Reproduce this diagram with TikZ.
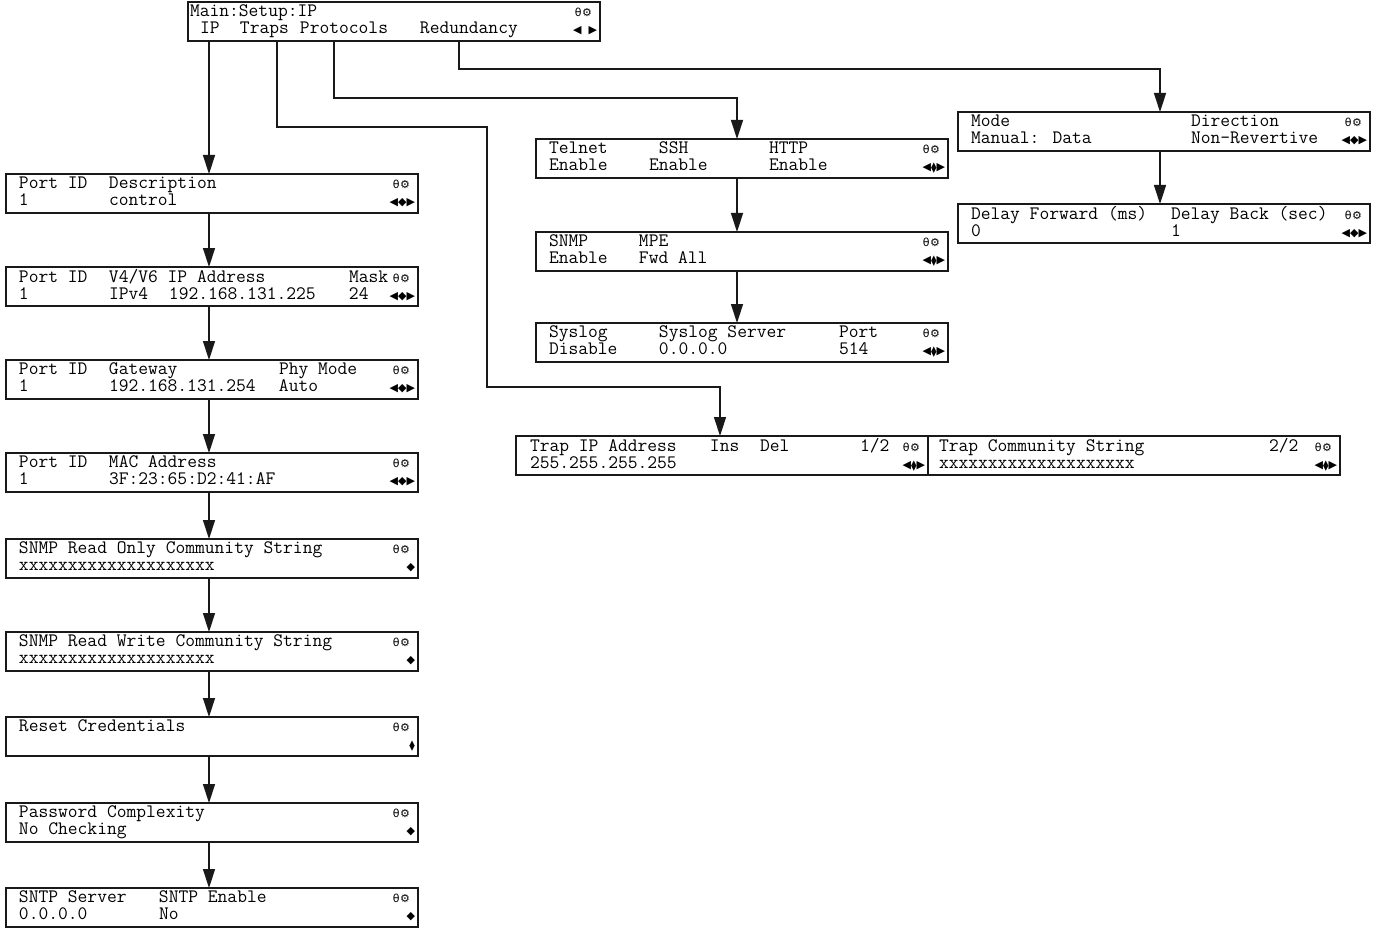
\documentclass[tikz,border=0pt]{standalone}
\usepackage{fontspec}
\newfontfamily\symfont{DejaVu Sans}
\usetikzlibrary{positioning,arrows.meta,calc}

% one display row is two lines of 10pt wide characters
\newlength{\cw}\setlength{\cw}{10pt}
\newlength{\lcdwd}\setlength{\lcdwd}{412pt}
\newcommand{\cell}[2]{\makebox[#1\cw][l]{#2}}
\newcommand{\sym}[1]{{\symfont\fontsize{11}{11}\selectfont #1}}
\newcommand{\lockgear}{\sym{θ\kern0.5pt⚙}}
\newcommand{\dia}{\sym{◆}}
\newcommand{\lrdia}{\sym{◀◆▶}}
\newcommand{\updn}{\raisebox{-3.2pt}{\sym{\vbox{\hbox{▴}\kern-6.2pt\hbox{▾}}}}}
\newcommand{\lrud}{\sym{◀}\updn\sym{▶}}
\newcommand{\lr}{\sym{◀\hspace{7pt}▶}}
\newcommand{\lcdrows}[4][13pt]{%
  \vbox{\baselineskip=17pt\lineskiplimit=-50pt
    \hbox to \lcdwd{\hspace*{#1}\rule{0pt}{12pt}#2\hfill\lockgear\hspace*{8pt}}
    \hbox to \lcdwd{\hspace*{#1}\rule[-5pt]{0pt}{5pt}#3\hfill#4\hspace*{3pt}}}}

\tikzset{
  lcd/.style={draw=black!90, line width=2.2pt, inner sep=0pt, outer sep=0pt,
              minimum height=39pt, anchor=north west,
              font=\ttfamily\fontsize{19}{17}\selectfont},
  flow/.style={-{Triangle[length=19pt,width=12pt]}, line width=1.4pt, draw=black!90},
}

\begin{document}
\begin{tikzpicture}[x=1pt, y=-1pt, node distance=54pt]
\useasboundingbox (0,0) rectangle (1373,928);

% --- top menu --------------------------------------------------------------------------
\node[lcd] (main) at (188,2)
  {\lcdrows[2pt]{Main:Setup:IP}{\cell{1}{}\cell{4}{IP}\cell{6}{Traps}\cell{12}{Protocols}Redundancy}{\lr}};
\coordinate (ipTab) at ($(main.south west)+(21,0)$);
\coordinate (trapsTab) at ($(main.south west)+(89,0)$);
\coordinate (protoTab) at ($(main.south west)+(146,0)$);
\coordinate (redTab) at ($(main.south west)+(271,0)$);

% --- IP column -------------------------------------------------------------------------
\node[lcd] (portdesc) at (6,174)
  {\lcdrows{\cell{9}{Port ID}Description}{\cell{9}{1}control}{\lrdia}};
\node[lcd, below=of portdesc.south west, anchor=north west] (portip)
  {\lcdrows{\cell{9}{Port ID}\cell{24}{V4/V6 IP Address}Mask}{\cell{9}{1}\cell{6}{IPv4}\cell{18}{192.168.131.225}24}{\lrdia}};
\node[lcd, below=of portip.south west, anchor=north west] (portgw)
  {\lcdrows{\cell{9}{Port ID}\cell{17}{Gateway}Phy Mode}{\cell{9}{1}\cell{17}{192.168.131.254}Auto}{\lrdia}};
\node[lcd, below=of portgw.south west, anchor=north west] (portmac)
  {\lcdrows{\cell{9}{Port ID}MAC Address}{\cell{9}{1}3F:23:65:D2:41:AF}{\lrdia}};
\node[lcd, below=47pt of portmac.south west, anchor=north west] (snmpro)
  {\lcdrows{SNMP Read Only Community String}{xxxxxxxxxxxxxxxxxxxx}{\dia}};
\node[lcd, below=of snmpro.south west, anchor=north west] (snmprw)
  {\lcdrows{SNMP Read Write Community String}{xxxxxxxxxxxxxxxxxxxx}{\dia}};
\node[lcd, below=46pt of snmprw.south west, anchor=north west] (reset)
  {\lcdrows{Reset Credentials}{}{\updn}};
\node[lcd, below=47pt of reset.south west, anchor=north west] (passwd)
  {\lcdrows{Password Complexity}{No Checking}{\dia}};
\node[lcd, below=46pt of passwd.south west, anchor=north west] (sntp)
  {\lcdrows{\cell{14}{SNTP Server}SNTP Enable}{\cell{14}{0.0.0.0}No}{\dia}};

% --- Protocols column ------------------------------------------------------------------
\node[lcd] (telnet) at (536,139)
  {\lcdrows{\cell{11}{Telnet}\cell{11}{SSH}HTTP}{\cell{10}{Enable}\cell{12}{Enable}Enable}{\lrud}};
\node[lcd, below=of telnet.south west, anchor=north west] (snmp)
  {\lcdrows{\cell{9}{SNMP}MPE}{\cell{9}{Enable}Fwd All}{\lrud}};
\node[lcd, below=52pt of snmp.south west, anchor=north west] (syslog)
  {\lcdrows{\cell{11}{Syslog}\cell{18}{Syslog Server}Port}{\cell{11}{Disable}\cell{18}{0.0.0.0}514}{\lrud}};

% --- Redundancy column -----------------------------------------------------------------
\node[lcd] (mode) at (958,112)
  {\lcdrows{\cell{22}{Mode}Direction}{\cell{22}{Manual: Data}Non-Revertive}{\lrdia}};
\node[lcd, below=53pt of mode.south west, anchor=north west] (delay)
  {\lcdrows{\cell{20}{Delay Forward (ms)}Delay Back (sec)}{\cell{20}{0}1}{\lrdia}};

% --- Traps pages -----------------------------------------------------------------------
\node[lcd] (trapip) at (516,436)
  {\lcdrows[14pt]{\cell{18}{Trap IP Address}\cell{5}{Ins}\cell{10}{Del}1/2}{255.255.255.255}{\lrud}};
\node[lcd, right=0pt of trapip.north east, anchor=north west] (trapcomm)
  {\lcdrows[11pt]{\cell{33}{Trap Community String}2/2}{xxxxxxxxxxxxxxxxxxxx}{\lrud}};

% --- connectors ------------------------------------------------------------------------
\coordinate (trapsBend) at (487,127);
\coordinate (trapsDrop) at (720,387);
\coordinate (protoDrop) at (737,98);
\coordinate (redDrop) at (1160,69);

\draw[flow] (ipTab) -- (ipTab |- portdesc.north);
\foreach \a/\b in {portdesc/portip, portip/portgw, portgw/portmac, portmac/snmpro,
                   snmpro/snmprw, snmprw/reset, reset/passwd, passwd/sntp}
  \draw[flow] (\a.south -| ipTab) -- (\b.north -| ipTab);

\draw[flow] (trapsTab) |- (trapsBend) |- (trapsDrop) -- (trapsDrop |- trapip.north);

\draw[flow] (protoTab) |- (protoDrop) -- (protoDrop |- telnet.north);
\draw[flow] (telnet.south -| protoDrop) -- (snmp.north -| protoDrop);
\draw[flow] (snmp.south -| protoDrop) -- (syslog.north -| protoDrop);

\draw[flow] (redTab) |- (redDrop) -- (redDrop |- mode.north);
\draw[flow] (mode.south -| redDrop) -- (delay.north -| redDrop);

\end{tikzpicture}
\end{document}
